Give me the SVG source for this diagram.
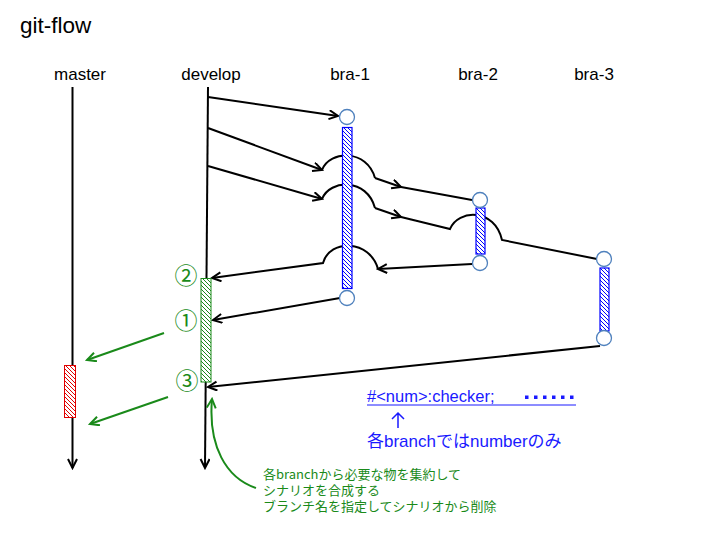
<svg xmlns="http://www.w3.org/2000/svg" width="720" height="540" viewBox="0 0 720 540">
<style>
.lbl{font-family:"Liberation Sans",Arial,sans-serif;font-size:17px;fill:#000}
.ln{fill:none;stroke:#000;stroke-width:2}
.gl{fill:none;stroke:#1a8a1a;stroke-width:2}
.node{fill:#fff;stroke:#4f81bd;stroke-width:1.3}
.gt{font-family:"Noto Sans CJK JP","Liberation Sans",sans-serif;font-size:13px;fill:#1a8a1a}
.bt{font-family:"Liberation Sans","Noto Sans CJK JP",sans-serif;fill:#1a1aff}
.num{font-family:"Noto Sans CJK JP","DejaVu Sans",sans-serif;font-size:23px;fill:#1a8a1a}
</style>
<defs>
<pattern id="hb" width="4" height="4" patternUnits="userSpaceOnUse"><rect width="4" height="4" fill="#fff"/><path d="M-1,-1 L5,5 M-1,3 L1,5 M3,-1 L5,1" stroke="#0000ff" stroke-width="1"/></pattern>
<pattern id="hg" width="4" height="4" patternUnits="userSpaceOnUse"><rect width="4" height="4" fill="#fff"/><path d="M-1,-1 L5,5 M-1,3 L1,5 M3,-1 L5,1" stroke="#1a8a1a" stroke-width="1"/></pattern>
<pattern id="hr" width="4" height="4" patternUnits="userSpaceOnUse"><rect width="4" height="4" fill="#fff"/><path d="M-1,-1 L5,5 M-1,3 L1,5 M3,-1 L5,1" stroke="#e00000" stroke-width="1"/></pattern>
<marker id="ak" markerWidth="12" markerHeight="12" refX="10" refY="5" orient="auto" markerUnits="userSpaceOnUse"><path d="M1,0.5 L10,5 L1,9.5" fill="none" stroke="#000" stroke-width="2"/></marker>
<marker id="ag" markerWidth="12" markerHeight="12" refX="10" refY="5" orient="auto" markerUnits="userSpaceOnUse"><path d="M1,0.5 L10,5 L1,9.5" fill="none" stroke="#1a8a1a" stroke-width="2"/></marker>
</defs>
<rect width="720" height="540" fill="#fff"/>
<text x="20" y="33" style="font-family:'Liberation Sans',Arial,sans-serif;font-size:22.5px">git-flow</text>

<g id="connectors">
<path class="ln" d="M72.5,87 L72.5,468" marker-end="url(#ak)"/>
<path class="ln" d="M208,87 L205,468" marker-end="url(#ak)"/>
<path class="ln" d="M208,97 L338,116" marker-end="url(#ak)"/>
<path class="ln" d="M208,128 L322,170" marker-end="url(#ak)"/>
<path class="ln" d="M322,170 C330,150 367,149 375,178"/>
<path class="ln" d="M375,178 L401,187" marker-end="url(#ak)"/>
<path class="ln" d="M401,187 L472,200"/>
<path class="ln" d="M208,166 L322,199" marker-end="url(#ak)"/>
<path class="ln" d="M322,199 C330,179 367,178 375,208"/>
<path class="ln" d="M375,208 L401,217" marker-end="url(#ak)"/>
<path class="ln" d="M401,217 L450,229 C458,209 495,208 502,240 L597,259"/>
<path class="ln" d="M472,264 L378,269" marker-end="url(#ak)"/>
<path class="ln" d="M378,269 C370,240 330,238 323,263 L212,278" marker-end="url(#ak)"/>
<path class="ln" d="M340,298 L213,320" marker-end="url(#ak)"/>
<path class="ln" d="M600,346 L208,387" marker-end="url(#ak)"/>
<path class="gl" d="M164,333 L87,360" marker-end="url(#ag)"/>
<path class="gl" d="M168,397 L90,424" marker-end="url(#ag)"/>
<path class="gl" d="M256,488 C226,478 208,446 212,399" marker-end="url(#ag)"/>
</g>

<g id="master"><text class="lbl" x="80" y="80" text-anchor="middle">master</text>
<rect x="64.5" y="365.5" width="11" height="52" fill="url(#hr)" stroke="#e00000" stroke-width="1"/></g>
<g id="develop"><text class="lbl" x="211" y="80" text-anchor="middle">develop</text>
<rect x="201" y="278.5" width="10" height="103.5" fill="url(#hg)" stroke="#1a8a1a" stroke-width="1"/></g>
<g id="bra-1"><text class="lbl" x="350" y="80" text-anchor="middle">bra-1</text>
<rect x="342.5" y="127.5" width="9.5" height="161" fill="url(#hb)" stroke="#0000ff" stroke-width="1.2"/>
<circle class="node" cx="347" cy="117" r="7.5"/><circle class="node" cx="347" cy="298" r="7.5"/></g>
<g id="bra-2"><text class="lbl" x="478" y="80" text-anchor="middle">bra-2</text>
<rect x="476" y="208" width="9" height="46" fill="url(#hb)" stroke="#0000ff" stroke-width="1.2"/>
<circle class="node" cx="480" cy="200" r="7.5"/><circle class="node" cx="480" cy="263" r="7.5"/></g>
<g id="bra-3"><text class="lbl" x="594" y="80" text-anchor="middle">bra-3</text>
<rect x="600" y="268" width="9" height="63" fill="url(#hb)" stroke="#0000ff" stroke-width="1.2"/>
<circle class="node" cx="604" cy="259" r="7.5"/><circle class="node" cx="604" cy="338" r="7.5"/></g>

<g id="steps">
<text class="num" x="186" y="284" text-anchor="middle">②</text>
<text class="num" x="186" y="329" text-anchor="middle">①</text>
<text class="num" x="187" y="389" text-anchor="middle">③</text>
</g>

<g id="note-blue">
<text class="bt" x="367" y="402" style="font-size:16.5px">#&lt;num&gt;:checker;</text>
<line x1="367" y1="405" x2="576" y2="405" stroke="#1a1aff" stroke-width="1"/>
<g fill="#1a1aff"><rect x="525" y="395.5" width="3.5" height="3.5"/><rect x="534" y="395.5" width="3.5" height="3.5"/><rect x="543" y="395.5" width="3.5" height="3.5"/><rect x="552" y="395.5" width="3.5" height="3.5"/><rect x="561" y="395.5" width="3.5" height="3.5"/><rect x="570" y="395.5" width="3.5" height="3.5"/></g>
<path d="M398,413 L398,428 M392,419 L398,413 L404,419" fill="none" stroke="#1a1aff" stroke-width="1.5"/>
<text class="bt" x="367" y="447" style="font-size:17px">各branchではnumberのみ</text>
</g>
<g id="note-green">
<text class="gt" x="263" y="479">各branchから必要な物を集約して</text>
<text class="gt" x="263" y="495">シナリオを合成する</text>
<text class="gt" x="263" y="511">ブランチ名を指定してシナリオから削除</text>
</g>
</svg>
